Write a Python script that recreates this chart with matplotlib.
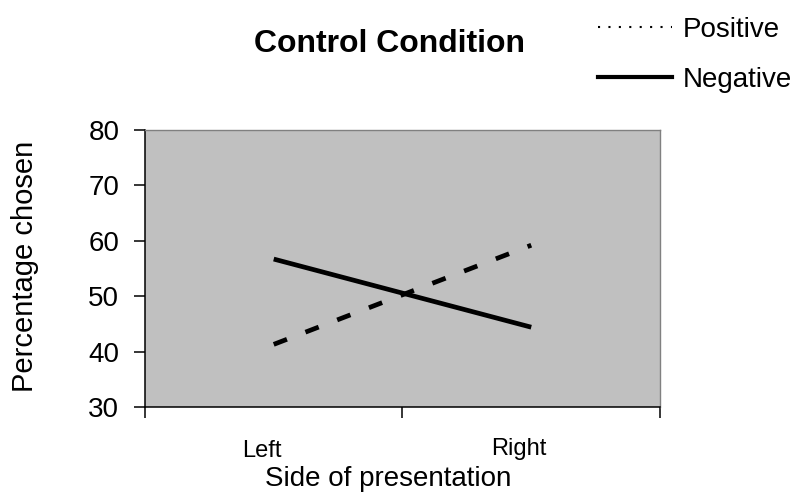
import matplotlib
matplotlib.use('Agg')
import matplotlib.pyplot as plt
from matplotlib.lines import Line2D
from matplotlib.ticker import FixedLocator, NullFormatter
from matplotlib.transforms import ScaledTranslation

plt.rcParams['font.family'] = ['Liberation Sans', 'DejaVu Sans']

sides = ['Left', 'Right']
positive = [41.3, 59.2]
negative = [56.7, 44.4]
y_ticks = [30, 40, 50, 60, 70, 80]

fig = plt.figure(figsize=(7.97, 5.04), dpi=100)
ax = fig.add_axes([0.1819, 0.1925, 0.6462, 0.5496])
ax.set_facecolor('#c0c0c0')

x = [1, 2]
ax.plot(x, positive, color='black', lw=3.4, dashes=(3.0, 4.2),
        dash_capstyle='butt', solid_capstyle='butt')
ax.plot(x, negative, color='black', lw=3.4, solid_capstyle='butt')

ax.set_xlim(0.5, 2.5)
ax.set_ylim(30, 80)
ax.set_yticks(y_ticks)
ax.tick_params(axis='y', direction='out', length=8, width=1.1, pad=10.5,
               labelsize=20)

# category boundaries get tick marks, category centres get the labels
ax.xaxis.set_major_locator(FixedLocator([0.5, 1.5, 2.5]))
ax.xaxis.set_major_formatter(NullFormatter())
ax.xaxis.set_minor_locator(FixedLocator(x))
ax.set_xticklabels(sides, minor=True)
ax.tick_params(axis='x', which='major', direction='out', length=8, width=1.1)
ax.tick_params(axis='x', which='minor', length=0, labelsize=17, pad=24)
minor = ax.xaxis.get_minor_ticks()
minor[1].set_pad(22)
shift = ScaledTranslation(-12 / 100, 0, fig.dpi_scale_trans)
for lab in ax.get_xticklabels(minor=True):
    lab.set_transform(lab.get_transform() + shift)

for s in ['left', 'bottom']:
    ax.spines[s].set_color('black')
    ax.spines[s].set_linewidth(1.1)
for s in ['top', 'right']:
    ax.spines[s].set_color('#808080')
    ax.spines[s].set_linewidth(1.0)

fig.text(390 / 797, 1 - 52 / 504, 'Control Condition', fontsize=23,
         fontweight='bold', ha='center', va='baseline')
fig.text(388 / 797, 1 - 486 / 504, 'Side of presentation', fontsize=20,
         ha='center', va='baseline')
fig.text(25 / 797, 1 - 266 / 504, 'Percentage chosen', fontsize=21,
         rotation=90, ha='center', va='center')

handles = [Line2D([], [], color='black', lw=1.5, ls=(0, (1, 4))),
           Line2D([], [], color='black', lw=3.0)]
fig.legend(handles, ['Positive', 'Negative'], loc='upper left',
           bbox_to_anchor=(587 / 797, 1 - 6 / 504), frameon=False,
           fontsize=20, handlelength=2.66, handletextpad=0.4,
           labelspacing=0.85, borderaxespad=0)

fig.savefig('out.png', dpi=100)
